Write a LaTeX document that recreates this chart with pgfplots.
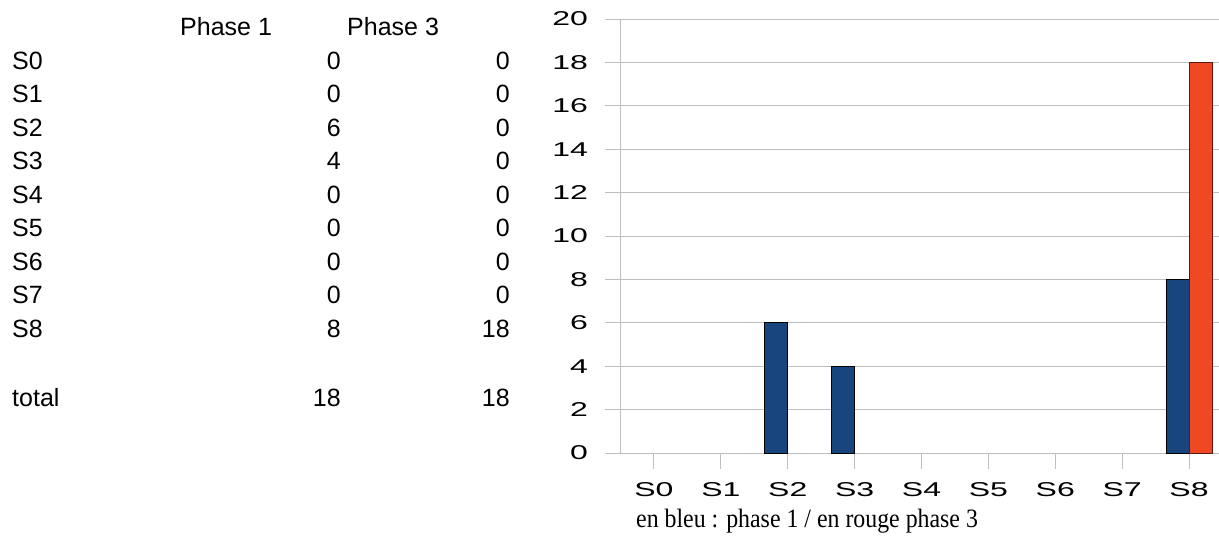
\documentclass[border=0pt]{standalone}
\usepackage{fontspec}
\setmainfont{Liberation Sans}
\newfontfamily\chartfont[FakeStretch=1.6]{Liberation Sans}
\newfontfamily\capfont[FakeStretch=0.9]{Liberation Serif}
\usepackage{pgfplots}
\pgfplotsset{compat=1.18}
\definecolor{barblue}{RGB}{24,69,126}
\definecolor{barred}{RGB}{239,72,35}
\definecolor{redline}{RGB}{90,25,15}
\definecolor{gridgray}{RGB}{190,190,190}

\begin{document}
\begin{tikzpicture}
\path[use as bounding box] (0pt,0pt) rectangle (1219pt,-538pt);
% data table on the left
\begin{scope}[every node/.style={inner sep=0pt, font=\fontsize{25}{30}\selectfont}]
\node[anchor=base west] at (180pt,-35pt) {Phase 1};
\node[anchor=base west] at (347pt,-35pt) {Phase 3};
\foreach \lab/\a/\b [count=\i from 0] in {S0/0/0,S1/0/0,S2/6/0,S3/4/0,S4/0/0,S5/0/0,S6/0/0,S7/0/0,S8/8/18}{
  \node[anchor=base west] at (12pt,{-69pt-\i*33.5pt}) {\lab};
  \node[anchor=base east] at (341pt,{-69pt-\i*33.5pt}) {\a};
  \node[anchor=base east] at (510pt,{-69pt-\i*33.5pt}) {\b};
}
\node[anchor=base west] at (12pt,-406pt) {total};
\node[anchor=base east] at (341pt,-406pt) {18};
\node[anchor=base east] at (510pt,-406pt) {18};
\end{scope}

\begin{axis}[
  at={(620.5pt,-453pt)}, anchor=south west,
  scale only axis, width=602pt, height=434pt,
  xmin=-0.5, xmax=8.5, ymin=0, ymax=20,
  ybar=0pt, bar width=23pt,
  axis x line=bottom, axis y line=left,
  axis line style={-, gridgray, line width=1pt},
  xtick={0,...,8}, xticklabels={S0,S1,S2,S3,S4,S5,S6,S7,S8},
  ytick={0,2,...,20},
  ymajorgrids, major grid style={gridgray, line width=1pt},
  tick align=outside, major tick length=16pt,
  tick style={gridgray, line width=1pt},
  /pgf/number format/assume math mode=true,
  tick label style={font=\chartfont\fontsize{20}{23}\selectfont, text=black},
  yticklabel style={anchor=east, xshift=-13pt},
  xticklabel style={anchor=north, yshift=-10pt},
  restrict y to domain=0.1:30,
]
\addplot[fill=barblue, draw=black, line width=0.8pt] coordinates {(0,0) (1,0) (2,6) (3,4) (4,0) (5,0) (6,0) (7,0) (8,8)};
\addplot[fill=barred, draw=redline, line width=0.8pt] coordinates {(0,0) (1,0) (2,0) (3,0) (4,0) (5,0) (6,0) (7,0) (8,18)};
\end{axis}

\node[anchor=base west, inner sep=0pt, font=\capfont\fontsize{26.5}{30}\selectfont] at (636pt,-527pt) {en bleu : phase 1 / en rouge phase 3};
\end{tikzpicture}
\end{document}
